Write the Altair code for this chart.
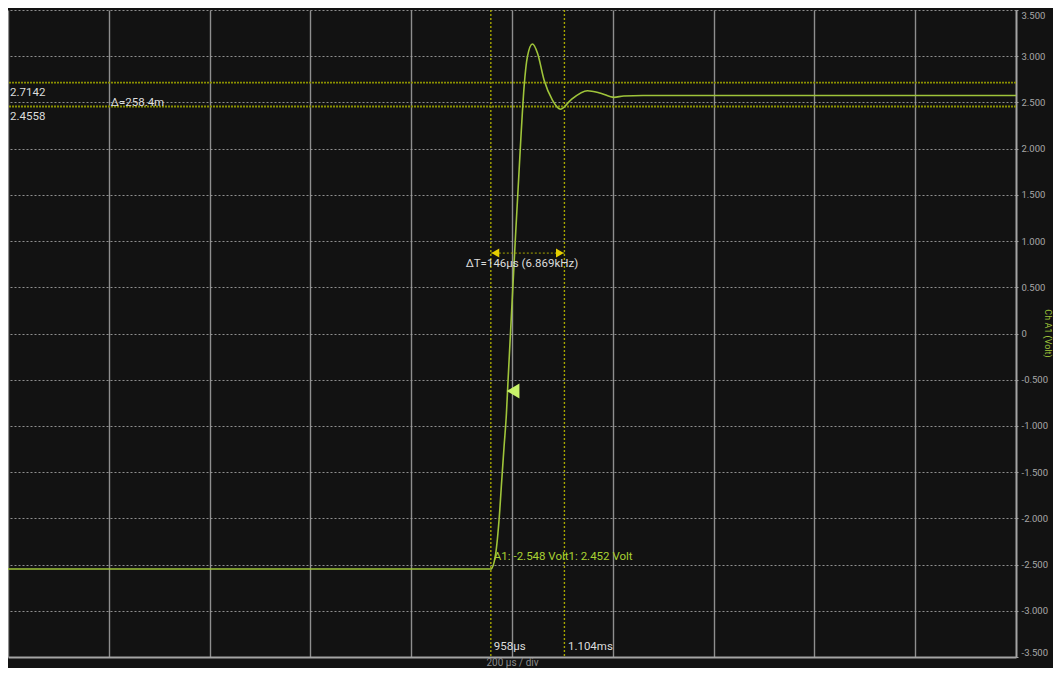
import altair as alt
import pandas as pd

# ---- data ----
t_us = [0, 958, 967.8, 974.3, 979.7, 984.2, 989.0, 992.2, 1005.5, 1017.4, 1024.0,
        1030.6, 1040.5, 1050.5, 1063.6, 1080.2, 1096.7, 1116.5, 1149.6, 1176.0,
        1202.4, 1221.6, 1260, 2000]
volts = [-2.548, -2.548, -2.375, -2.018, -1.585, -1.228, -0.860, -0.503, 0.903, 2.094, 2.670,
         2.995, 3.132, 3.035, 2.743, 2.526, 2.426, 2.526, 2.627, 2.599,
         2.555, 2.570, 2.575, 2.575]

cursor_t = [958, 1104]
cursor_v = [2.7142, 2.4558]

x_ticks = list(range(0, 2001, 200))
y_ticks = [-3.5, -3.0, -2.5, -2.0, -1.5, -1.0, -0.5, 0, 0.5, 1.0, 1.5, 2.0, 2.5, 3.0, 3.5]

arrow_t = [967, 1095]
arrow_v = [0.87, 0.87]
arrow_shape = ["triangle-left", "triangle-right"]

trigger_t = [1002]
trigger_v = [-0.622]

white_text = ["2.7142", "2.4558", "Δ=258.4m", "ΔT=146µs (6.869kHz)", "958µs", "1.104ms"]
white_t = [4, 4, 204, 908, 964, 1111]
white_v = [2.602, 2.342, 2.494, 0.752, -3.392, -3.392]

green_text = ["A1: -2.548 Volt1: 2.452 Volt"]
green_t = [964]
green_v = [-2.418]

# ---- tables ----
wave = pd.DataFrame({"t": t_us, "v": volts})
vcur = pd.DataFrame({"t": cursor_t})
hcur = pd.DataFrame({"v": cursor_v})
arrows = pd.DataFrame({"t": arrow_t, "v": arrow_v, "shape": arrow_shape})
arrow_line = pd.DataFrame({"t": [cursor_t[0]], "t2": [cursor_t[1]], "v": [arrow_v[0]]})
trig = pd.DataFrame({"t": trigger_t, "v": trigger_v})
wtxt = pd.DataFrame({"t": white_t, "v": white_v, "label": white_text})
gtxt = pd.DataFrame({"t": green_t, "v": green_v, "label": green_text})

BG = "#121212"
GRID = "#a4a4a4"
GREEN = "#9fc43a"
YELLOW = "#a6a600"
FONT = "Roboto"

xs = alt.Scale(domain=[0, 2000], nice=False, zero=False)
ys = alt.Scale(domain=[-3.5, 3.5], nice=False, zero=False)

x_axis = alt.Axis(values=x_ticks, grid=True, gridColor=GRID, gridWidth=1.4, gridOpacity=0.85,
                  labels=False, ticks=False, domain=True, domainColor=GRID, domainWidth=1.8,
                  title="200 µs / div", titleColor="#8a8a8a", titleFont=FONT,
                  titleFontSize=10, titleFontWeight="normal", titlePadding=0)
y_axis = alt.Axis(orient="right", values=y_ticks, grid=True, gridColor=GRID, gridDash=[2, 2],
                  gridWidth=1.2, gridOpacity=0.85, ticks=True, tickSize=3, tickColor=GRID,
                  tickDash=[2, 2], domain=True, domainColor=GRID, domainWidth=1.8,
                  labelColor="#a8a8a8", labelFont=FONT, labelFontSize=9.5, labelPadding=2,
                  labelFlush=True, labelFlushOffset=0,
                  labelExpr="datum.value == 0 ? '0' : replace(format(datum.value, '.3f'), '\u2212', '-')",
                  title="Ch A1 (Volt)", titleColor=GREEN, titleFont=FONT, titleFontSize=9,
                  titleFontWeight="normal", titleAngle=90, titleBaseline="middle",
                  titleAlign="center", titleX=31, titleY=323)

line = alt.Chart(wave).mark_line(color=GREEN, strokeWidth=1.6, interpolate="monotone").encode(
    x=alt.X("t:Q", scale=xs, axis=x_axis),
    y=alt.Y("v:Q", scale=ys, axis=y_axis),
)

vrules = alt.Chart(vcur).mark_rule(color=YELLOW, strokeDash=[2, 2], strokeWidth=1.4).encode(
    x=alt.X("t:Q", scale=xs))
hrules = alt.Chart(hcur).mark_rule(color="#8a9000", strokeDash=[2, 1], strokeWidth=1.8).encode(
    y=alt.Y("v:Q", scale=ys))

aline = alt.Chart(arrow_line).mark_rule(color=YELLOW, strokeDash=[2, 2], strokeWidth=1).encode(
    x=alt.X("t:Q", scale=xs), x2="t2:Q", y=alt.Y("v:Q", scale=ys))
apts = alt.Chart(arrows).mark_point(filled=True, color="#e6cf00", size=80, opacity=1).encode(
    x=alt.X("t:Q", scale=xs), y=alt.Y("v:Q", scale=ys),
    shape=alt.Shape("shape:N", scale=None, legend=None))

trigm = alt.Chart(trig).mark_point(filled=True, shape="triangle-left", color="#c8f26a",
                                   size=220, opacity=1).encode(
    x=alt.X("t:Q", scale=xs), y=alt.Y("v:Q", scale=ys))

wt = alt.Chart(wtxt).mark_text(align="left", baseline="middle", color="#dcdcdc",
                               font=FONT, fontSize=11.5).encode(
    x=alt.X("t:Q", scale=xs), y=alt.Y("v:Q", scale=ys), text="label:N")
gt = alt.Chart(gtxt).mark_text(align="left", baseline="middle", color="#a9d132",
                               font=FONT, fontSize=11.5).encode(
    x=alt.X("t:Q", scale=xs), y=alt.Y("v:Q", scale=ys), text="label:N")

chart = alt.layer(vrules, hrules, line, aline, apts, trigm, wt, gt).properties(
    width=1008, height=647,
    background=BG,
    padding={"left": 0, "top": 2, "right": 37, "bottom": 11},
    autosize=alt.AutoSizeParams(type="none"),
).configure_view(stroke=None, fill=BG)

chart.save("out.html", embed_options={"renderer": "svg", "actions": False})
